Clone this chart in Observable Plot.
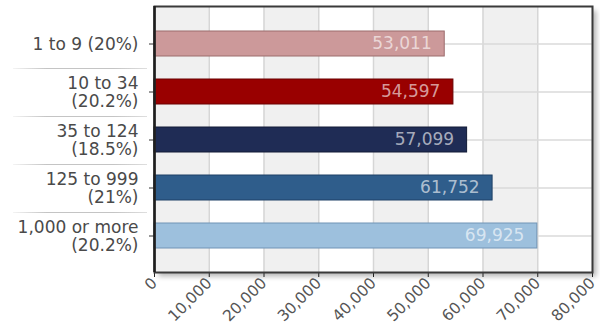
<!DOCTYPE html>
<html>
<head>
<meta charset="utf-8">
<script src="https://cdn.jsdelivr.net/npm/d3@7"></script>
<script src="https://cdn.jsdelivr.net/npm/@observablehq/plot@0.6"></script>
<style>
  body { margin: 0; background: #fff; }
  #chart svg { display: block; }
</style>
</head>
<body>
<div id="chart"></div>
<script>
// Firm-size classes (share of establishments) and average annual pay
const categories = [
  "1 to 9 (20%)",
  "10 to 34\n(20.2%)",
  "35 to 124\n(18.5%)",
  "125 to 999\n(21%)",
  "1,000 or more\n(20.2%)"
];
const values = [53011, 54597, 57099, 61752, 69925];
const xTicks = [0, 10000, 20000, 30000, 40000, 50000, 60000, 70000, 80000];

// Bar palette: fill and a darker outline per class
const barFills = ["#cc999a", "#990000", "#1f2c55", "#2f5d8b", "#9dc0dd"];
const barEdges = ["#9c6c6d", "#6a0000", "#121b36", "#1f4166", "#7094b6"];

const table = categories.map((category, i) => ({
  category,
  value: values[i],
  fill: barFills[i],
  edge: barEdges[i]
}));

// Alternate shaded columns between ticks
const shaded = xTicks.filter((t, i) => i % 2 === 0 && i < xTicks.length - 1);
const fmt = d3.format(",");

const chart = Plot.plot({
  width: 600,
  height: 333,
  marginLeft: 154,
  marginRight: 8,
  marginTop: 6,
  marginBottom: 61,
  style: { fontFamily: "'DejaVu Sans', Verdana, sans-serif", background: "#fff" },
  x: { domain: [0, 80000], label: null },
  y: { domain: categories, padding: 0.48, label: null },
  color: { type: "identity" },
  marks: [
    Plot.frame({ fill: "#000", fillOpacity: 0.28, dx: 4, dy: 4 }),
    Plot.frame({ fill: "#fff" }),
    Plot.rectX(shaded, { x1: (d) => d, x2: (d) => d + 10000, fill: "#f0f0f0" }),
    Plot.gridX({ ticks: xTicks, stroke: "#d6d6d6", strokeOpacity: 1, strokeWidth: 1.5 }),
    Plot.ruleY(categories, { stroke: "#dadada", strokeWidth: 1.5 }),
    Plot.barX(table, { x: "value", y: "category", fill: "fill", stroke: "edge", strokeWidth: 1 }),
    Plot.text(table, {
      x: "value",
      y: "category",
      text: (d) => fmt(d.value),
      textAnchor: "end",
      dx: -13,
      fill: "#fff",
      fillOpacity: 0.62,
      fontSize: 17
    }),
    Plot.axisY({
      tickSize: 5,
      tickPadding: 11,
      fontSize: 17,
      lineHeight: 1.08,
      stroke: "#333",
      fill: "#4a4a4a"
    }),
    Plot.axisX({
      ticks: xTicks,
      tickFormat: fmt,
      tickRotate: -45,
      tickSize: 5,
      tickPadding: 3,
      fontSize: 15.5,
      stroke: "#222",
      fill: "#555"
    }),
    Plot.frame({ stroke: "#3a3a3a", strokeWidth: 2 }),
    Plot.ruleX([0], { stroke: "#1e1e1e", strokeWidth: 2.5 })
  ]
});

document.getElementById("chart").append(chart);

// Soft shadow behind the plot frame, and separators between the class labels
const svg = d3.select(chart);
const defs = svg.insert("defs", ":first-child");
defs.append("filter").attr("id", "frame-shadow")
  .attr("x", "-10%").attr("y", "-10%").attr("width", "120%").attr("height", "130%")
  .append("feGaussianBlur").attr("stdDeviation", 2.5);
const grad = defs.append("linearGradient").attr("id", "sep-grad")
  .attr("gradientUnits", "userSpaceOnUse")
  .attr("x1", 13).attr("x2", 147).attr("y1", 0).attr("y2", 0);
[["0%", 0.2], ["25%", 1], ["75%", 1], ["100%", 0.55]].forEach(([o, a]) =>
  grad.append("stop").attr("offset", o).attr("stop-color", "#c4c4c4").attr("stop-opacity", a));
svg.select('[aria-label="frame"]').attr("filter", "url(#frame-shadow)");

const ys = chart.scale("y");
const gap = (ys.step - ys.bandwidth) / 2;
const sep = svg.append("g").attr("aria-label", "label separators");
categories.slice(1).forEach((c) => {
  const yy = Math.round(ys.apply(c) - gap) + 0.5;
  sep.append("line")
    .attr("x1", 13).attr("x2", 147)
    .attr("y1", yy).attr("y2", yy)
    .attr("stroke", "url(#sep-grad)")
    .attr("stroke-width", 1.2);
});
</script>
</body>
</html>
